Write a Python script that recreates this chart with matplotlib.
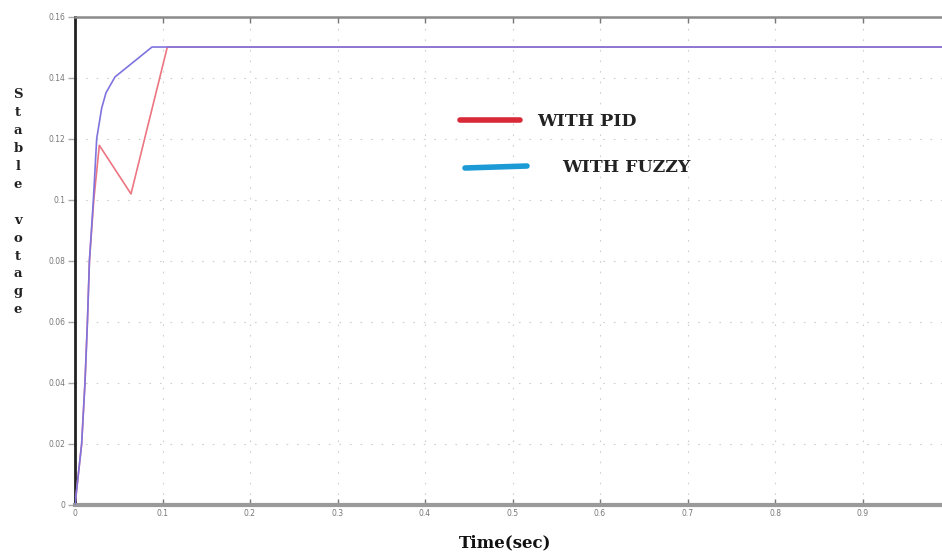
import matplotlib
matplotlib.use("Agg")
import matplotlib.pyplot as plt
from matplotlib.lines import Line2D

# ---- data ----
t_fuzzy = [0, 0.0076, 0.0114, 0.0142, 0.0165, 0.021, 0.0248, 0.0305, 0.0354, 0.0457, 0.088, 1.0]
v_fuzzy = [0, 0.02, 0.04, 0.06, 0.08, 0.10, 0.12, 0.13, 0.135, 0.1402, 0.15, 0.15]

t_pid = [0, 0.0076, 0.0114, 0.0142, 0.0165, 0.0215, 0.0278, 0.064, 0.1055, 1.0]
v_pid = [0, 0.02, 0.04, 0.06, 0.08, 0.10, 0.1178, 0.1019, 0.15, 0.15]

x_ticks = [0, 0.1, 0.2, 0.3, 0.4, 0.5, 0.6, 0.7, 0.8, 0.9]
x_tick_labels = ["0", "0.1", "0.2", "0.3", "0.4", "0.5", "0.6", "0.7", "0.8", "0.9"]
y_ticks = [0, 0.02, 0.04, 0.06, 0.08, 0.10, 0.12, 0.14, 0.16]
y_tick_labels = ["0", "0.02", "0.04", "0.06", "0.08", "0.1", "0.12", "0.14", "0.16"]

legend_labels = ["WITH PID", "WITH FUZZY"]
ylabel_text = "Stable votage"
xlabel_text = "Time(sec)"

W, H = 942, 554
fig = plt.figure(figsize=(W / 100, H / 100), dpi=100)
fig.patch.set_facecolor("white")

left_px, right_px, top_px, bottom_px = 75, 950, 16.5, 505
ax = fig.add_axes([left_px / W, 1 - bottom_px / H,
                   (right_px - left_px) / W, (bottom_px - top_px) / H])

ax.plot(t_pid, v_pid, color="#ec7582", lw=1.2, zorder=3)
ax.plot(t_fuzzy, v_fuzzy, color="#7f74de", lw=1.2, zorder=4)

ax.set_xlim(0, 1.0)
ax.set_ylim(0, 0.16)
ax.set_xticks(x_ticks)
ax.set_xticklabels(x_tick_labels)
ax.set_yticks(y_ticks)
ax.set_yticklabels(y_tick_labels)

ax.grid(True, color="#cfcfcf", linestyle=(0, (1.5, 8)), lw=0.8)

ax.spines["right"].set_visible(False)
ax.spines["left"].set_color("#222222")
ax.spines["left"].set_linewidth(2.0)
ax.spines["bottom"].set_color("#9a9a9a")
ax.spines["bottom"].set_linewidth(3.0)
ax.spines["top"].set_color("#8a8a8a")
ax.spines["top"].set_linewidth(1.8)

ax.tick_params(axis="x", which="both", direction="in", top=True, length=4,
               width=1, color="#777777", labelsize=5.5, labelcolor="#777777", pad=3)
ax.tick_params(axis="y", which="both", direction="out", length=5,
               width=1, color="#aaaaaa", labelsize=5.5, labelcolor="#777777", pad=2)

serif = ["DejaVu Serif", "Liberation Serif"]

# stacked y-label letters
letters = list(ylabel_text)
y0, step = 95, 17.9
for i, ch in enumerate(letters):
    if ch == " ":
        continue
    fig.text(18 / W, 1 - (y0 + i * step) / H, ch, ha="center", va="center",
             family=serif, fontweight="bold", fontsize=9.5, color="#222222")

fig.text(505 / W, 1 - 543 / H, xlabel_text, ha="center", va="center",
         family=serif, fontweight="bold", fontsize=12, color="#111111")

# hand-drawn style legend
fig.add_artist(Line2D([460 / W, 520 / W], [1 - 120 / H, 1 - 120 / H],
                      color="#d92838", lw=4, solid_capstyle="round"))
fig.add_artist(Line2D([465 / W, 527 / W], [1 - 168 / H, 1 - 166 / H],
                      color="#1b9ad6", lw=4, solid_capstyle="round"))
fig.text(537 / W, 1 - 121 / H, legend_labels[0], ha="left", va="center",
         family=serif, fontweight="bold", fontsize=12.5, color="#222222")
fig.text(562 / W, 1 - 168 / H, legend_labels[1], ha="left", va="center",
         family=serif, fontweight="bold", fontsize=12.5, color="#222222")

fig.savefig("out.png", dpi=100)
